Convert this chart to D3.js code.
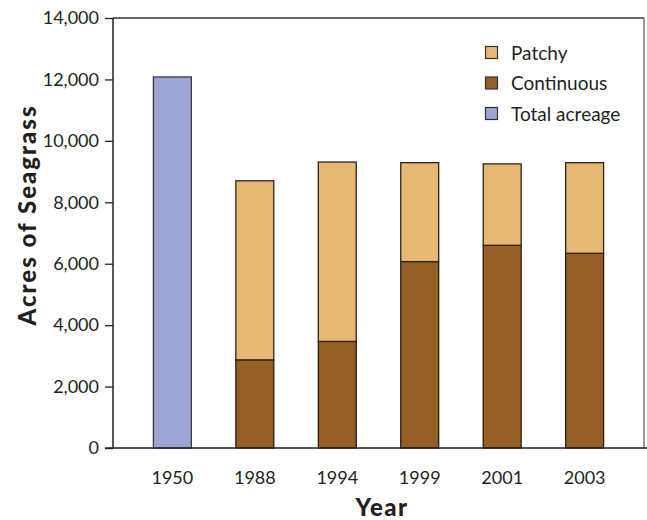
<!DOCTYPE html>
<html><head><meta charset="utf-8">
<script src="https://cdn.jsdelivr.net/npm/d3@7"></script>
<style>body{margin:0;background:#fff}text{font-family:Lato,"Open Sans",sans-serif;fill:#231f20}</style>
</head><body><svg id="c" width="647" height="520"></svg>
<script>
const years = ["1950","1988","1994","1999","2001","2003"];
const continuous = [0, 2870, 3470, 6070, 6600, 6340];
const patchy = [0, 5830, 5840, 3220, 2650, 2950];
const total = [12080, 0, 0, 0, 0, 0];
const yTicks = [0,2000,4000,6000,8000,10000,12000,14000];
const legendLabels = ["Patchy","Continuous","Total acreage"];
const colors = {patchy:"#e8b872", continuous:"#955e22", total:"#9ba6d2"};

const svg = d3.select("#c");
const m = {l:113, r:644, t:18, b:448};
const x = d3.scaleBand().domain(years).range([m.l, m.r]).paddingInner(0.54).paddingOuter(0.49);
const y = d3.scaleLinear().domain([0,14000]).range([m.b, m.t]);

svg.append("line").attr("x1",m.l).attr("x2",m.r).attr("y1",m.t).attr("y2",m.t).attr("stroke","#333").attr("stroke-width",1.5);
svg.append("line").attr("x1",m.r).attr("x2",m.r).attr("y1",m.t).attr("y2",m.b).attr("stroke","#777").attr("stroke-width",1.5);

const bars = svg.append("g");
years.forEach((yr,i)=>{
  const bx = x(yr), bw = x.bandwidth();
  if (total[i] > 0) {
    bars.append("rect").attr("x",bx).attr("width",bw).attr("y",y(total[i])).attr("height",y(0)-y(total[i]))
      .attr("fill",colors.total).attr("stroke","#3a3a40").attr("stroke-width",1.3);
  }
  if (continuous[i] > 0) {
    bars.append("rect").attr("x",bx).attr("width",bw).attr("y",y(continuous[i])).attr("height",y(0)-y(continuous[i]))
      .attr("fill",colors.continuous).attr("stroke","#2a1c10").attr("stroke-width",1.3);
  }
  if (patchy[i] > 0) {
    const top = continuous[i]+patchy[i];
    bars.append("rect").attr("x",bx).attr("width",bw).attr("y",y(top)).attr("height",y(continuous[i])-y(top))
      .attr("fill",colors.patchy).attr("stroke","#2a2420").attr("stroke-width",1.3);
  }
});

const ya = svg.append("g").attr("transform",`translate(${m.l},0)`)
  .call(d3.axisLeft(y).tickValues(yTicks).tickSize(8).tickPadding(6).tickFormat(d3.format(",")));
ya.select(".domain").attr("stroke","#231f20").attr("stroke-width",1.5).attr("d",`M0,${m.t}V${m.b}`);
ya.selectAll(".tick line").attr("stroke","#231f20").attr("stroke-width",1.3);
ya.selectAll(".tick text").style("font-size","18px").attr("fill","#231f20");

svg.append("line").attr("x1",m.l-8).attr("x2",647).attr("y1",m.b).attr("y2",m.b).attr("stroke","#231f20").attr("stroke-width",1.5);
const xa = svg.append("g").attr("transform",`translate(0,${m.b})`)
  .call(d3.axisBottom(x).tickSize(0).tickPadding(23));
xa.select(".domain").remove();
xa.selectAll(".tick text").style("font-size","18px").attr("fill","#231f20");

svg.append("text").attr("x",382).attr("y",516).attr("text-anchor","middle")
  .style("font-size","24px").style("font-weight","900").style("letter-spacing","1.5px").text("Year");
svg.append("text").attr("transform","translate(36,215) rotate(-90)").attr("text-anchor","middle")
  .style("font-size","24px").style("font-weight","900").style("letter-spacing","2px").text("Acres of Seagrass");

const lg = svg.append("g");
const lc = [colors.patchy, colors.continuous, colors.total];
legendLabels.forEach((l,i)=>{
  const yy = 53 + i*30.5;
  lg.append("rect").attr("x",485.5).attr("y",yy-6.5).attr("width",12).attr("height",12)
    .attr("fill",lc[i]).attr("stroke","#333").attr("stroke-width",1.2);
  lg.append("text").attr("x",511).attr("y",yy+6.5).style("font-size","19px").text(l);
});
</script></body></html>
